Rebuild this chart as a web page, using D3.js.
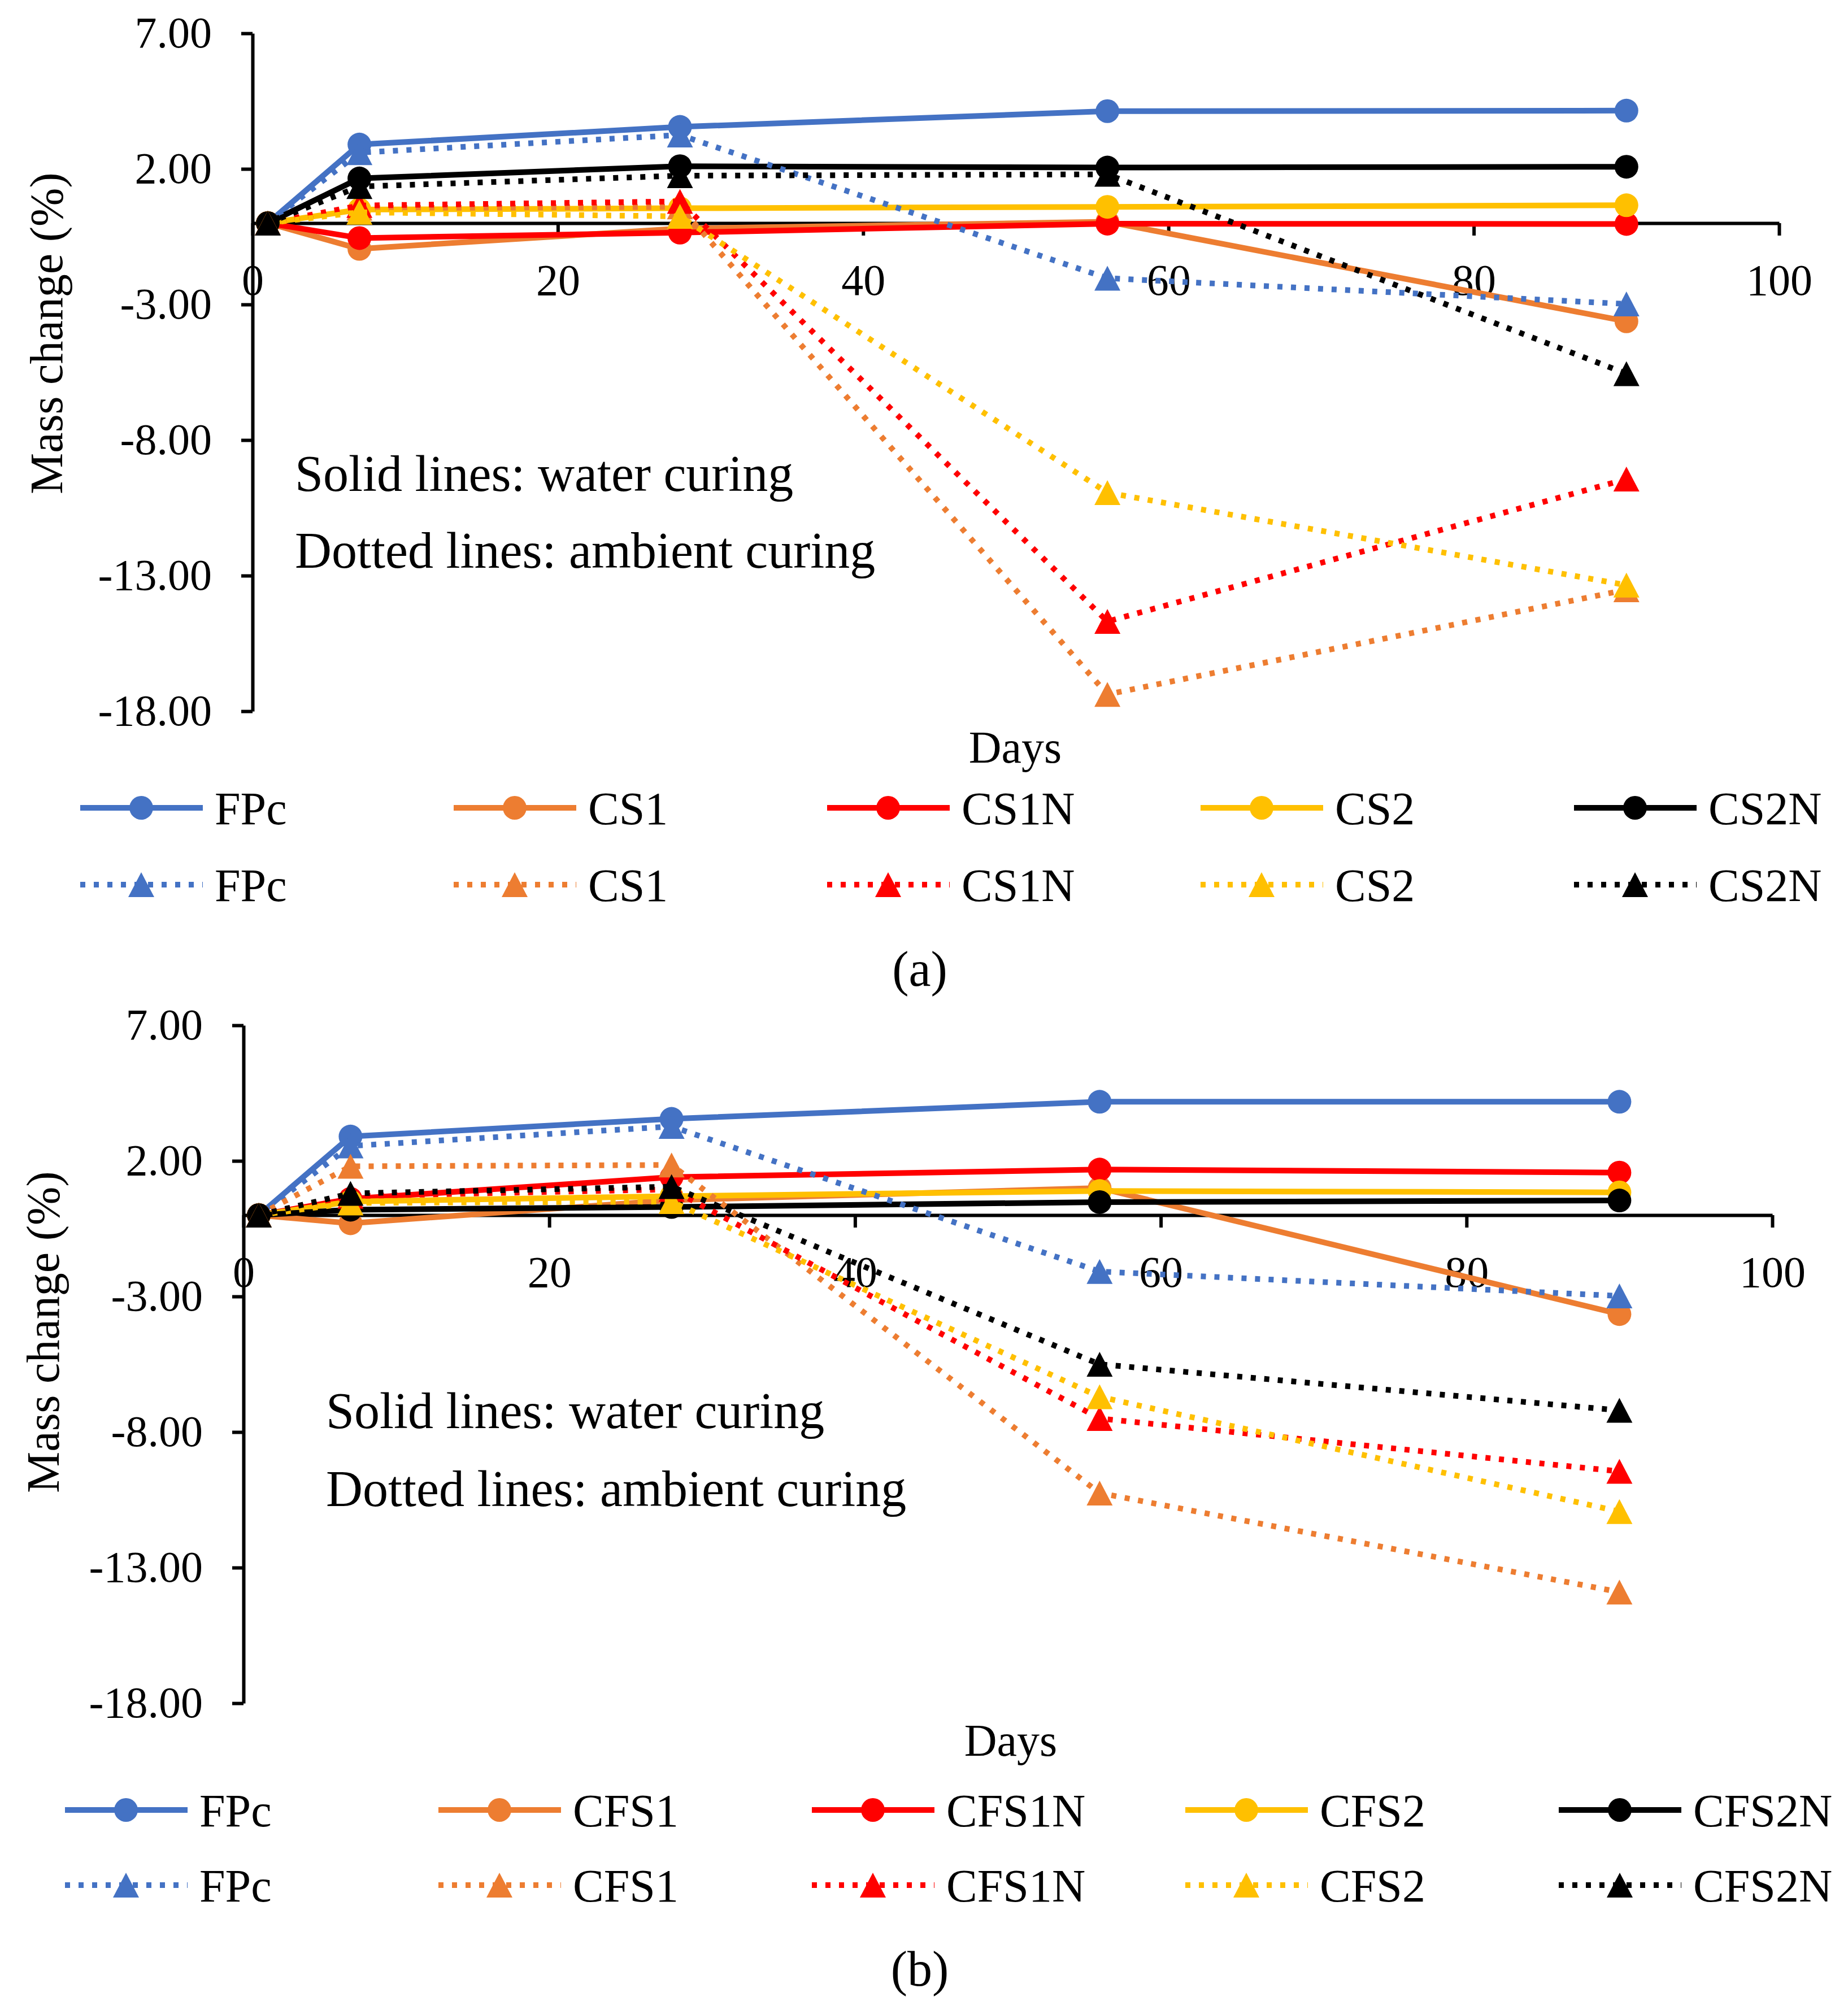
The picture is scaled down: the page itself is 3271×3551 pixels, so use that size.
<!DOCTYPE html>
<html>
<head>
<meta charset="utf-8">
<script src="https://cdn.jsdelivr.net/npm/d3@7"></script>
<style>
  body { margin: 0; background: #fff; }
  svg { display: block; font-family: "Liberation Serif", "Times New Roman", serif; }
</style>
</head>
<body>
<svg id="chart" width="3271" height="3551"></svg>
<script>
const width = 3271, height = 3551;

// shared values
const days = [1, 7, 28, 56, 90];
const yTicks = [7, 2, -3, -8, -13, -18];
const xTicks = [0, 20, 40, 60, 80, 100];
const colors = ["#4472C4", "#ED7D31", "#FF0000", "#FFC000", "#000000"];

// panel (a)
const namesA = ["FPc", "CS1", "CS1N", "CS2", "CS2N"];
const solidA = [
    [0, 2.9, 3.55, 4.13, 4.15],
    [0, -0.95, -0.2, 0.05, -3.62],
    [0, -0.55, -0.35, -0.02, -0.03],
    [0, 0.5, 0.55, 0.6, 0.66],
    [0, 1.65, 2.1, 2.05, 2.08]
];
const dottedA = [
    [0, 2.6, 3.25, -2.03, -2.98],
    [0, 0.55, 0.6, -17.38, -13.52],
    [0, 0.65, 0.8, -14.69, -9.44],
    [0, 0.4, 0.25, -9.94, -13.35],
    [0, 1.35, 1.75, 1.8, -5.55]
];

// panel (b)
const namesB = ["FPc", "CFS1", "CFS1N", "CFS2", "CFS2N"];
const solidB = [
    [0, 2.9, 3.55, 4.18, 4.18],
    [0, -0.3, 0.55, 1.0, -3.65],
    [0, 0.6, 1.4, 1.68, 1.57],
    [0, 0.5, 0.7, 0.89, 0.84],
    [0, 0.2, 0.3, 0.48, 0.54]
];
const dottedB = [
    [0, 2.55, 3.27, -2.08, -2.98],
    [0, 1.8, 1.85, -10.25, -13.9],
    [0, 0.7, 0.95, -7.5, -9.45],
    [0, 0.45, 0.5, -6.7, -10.93],
    [0, 0.8, 1.05, -5.5, -7.2]
];

const svg = d3.select("#chart");
svg.append("rect").attr("width", width).attr("height", height).attr("fill", "#fff");

const DOT = "9 15";

function triangle(cx, cy, w, h) {
    return `M${cx},${cy - h / 2}L${cx + w / 2},${cy + h / 2}L${cx - w / 2},${cy + h / 2}Z`;
}

function drawPanel(p) {
    const g = svg.append("g");
    const x = d3.scaleLinear().domain([0, 100]).range([p.left, p.right]);
    const y = d3.scaleLinear().domain([-18, 7]).range([p.bottom, p.top]);

    // y axis
    g.append("g")
        .attr("transform", `translate(${p.left},0)`)
        .call(d3.axisLeft(y).tickValues(yTicks).tickFormat(d => d.toFixed(2))
            .tickSize(20).tickSizeOuter(0).tickPadding(52))
        .call(a => a.selectAll("path, line").attr("stroke", "#000").attr("stroke-width", 6))
        .call(a => a.selectAll("text").attr("fill", "#000").style("font-size", "78px")
            .style("font-family", "Liberation Serif, serif"));

    // x axis at zero
    g.append("g")
        .attr("transform", `translate(0,${y(0)})`)
        .call(d3.axisBottom(x).tickValues(xTicks).tickSize(22).tickSizeOuter(0).tickPadding(50))
        .call(a => a.selectAll("path, line").attr("stroke", "#000").attr("stroke-width", 6))
        .call(a => a.selectAll("text").attr("fill", "#000").style("font-size", "78px")
            .style("font-family", "Liberation Serif, serif"));

    const line = d3.line()
        .x((d, i) => x(days[i]))
        .y(d => y(d));

    // solid series first, dotted on top
    const series = [];
    p.solid.forEach((vals, i) => series.push({ vals, color: colors[i], dotted: false }));
    p.dotted.forEach((vals, i) => series.push({ vals, color: colors[i], dotted: true }));

    series.forEach(s => {
        const sg = g.append("g");
        sg.append("path")
            .attr("fill", "none")
            .attr("stroke", s.color)
            .attr("stroke-width", 10)
            .attr("stroke-linejoin", "round")
            .attr("stroke-dasharray", s.dotted ? DOT : null)
            .attr("d", line(s.vals));
        if (s.dotted) {
            sg.selectAll("path.mk").data(s.vals).join("path")
                .attr("class", "mk")
                .attr("fill", s.color)
                .attr("d", (d, i) => triangle(x(days[i]), y(d), 46, 44));
        } else {
            sg.selectAll("circle").data(s.vals).join("circle")
                .attr("cx", (d, i) => x(days[i]))
                .attr("cy", d => y(d))
                .attr("r", 21)
                .attr("fill", s.color);
        }
    });

    // axis titles
    g.append("text")
        .attr("transform", `translate(${p.yTitleX},${p.yTitleY}) rotate(-90)`)
        .attr("text-anchor", "middle")
        .style("font-size", "82px")
        .text("Mass change (%)");

    g.append("text")
        .attr("x", p.daysX)
        .attr("y", p.daysY)
        .attr("text-anchor", "middle")
        .style("font-size", "80px")
        .text("Days");

    // notes
    g.append("text").attr("x", p.noteX).attr("y", p.noteY1)
        .style("font-size", "90px").text("Solid lines: water curing");
    g.append("text").attr("x", p.noteX).attr("y", p.noteY2)
        .style("font-size", "90px").text("Dotted lines: ambient curing");

    // legend
    [false, true].forEach((dotted, row) => {
        const ly = p.legendY[row];
        p.names.forEach((n, i) => {
            const lx = p.legendX + i * 661;
            const item = g.append("g");
            item.append("line")
                .attr("x1", lx).attr("x2", lx + 217)
                .attr("y1", ly).attr("y2", ly)
                .attr("stroke", colors[i])
                .attr("stroke-width", 10)
                .attr("stroke-dasharray", dotted ? DOT : null);
            if (dotted) {
                item.append("path").attr("fill", colors[i])
                    .attr("d", triangle(lx + 108, ly, 46, 44));
            } else {
                item.append("circle").attr("cx", lx + 108).attr("cy", ly)
                    .attr("r", 21).attr("fill", colors[i]);
            }
            item.append("text")
                .attr("x", lx + 238)
                .attr("y", ly)
                .attr("dy", "0.35em")
                .style("font-size", "82px")
                .text(n);
        });
    });

    // panel label
    g.append("text")
        .attr("x", p.tagX).attr("y", p.tagY)
        .attr("text-anchor", "middle")
        .style("font-size", "88px")
        .text(p.tag);
}

drawPanel({
    left: 447, right: 3149, top: 59, bottom: 1259,
    solid: solidA, dotted: dottedA, names: namesA,
    yTitleX: 110, yTitleY: 590,
    daysX: 1797, daysY: 1350,
    noteX: 522, noteY1: 869, noteY2: 1005,
    legendX: 142, legendY: [1430, 1566],
    tagX: 1628, tagY: 1745, tag: "(a)"
});

drawPanel({
    left: 431, right: 3137, top: 1815, bottom: 3015,
    solid: solidB, dotted: dottedB, names: namesB,
    yTitleX: 104, yTitleY: 2358,
    daysX: 1789, daysY: 3108,
    noteX: 577, noteY1: 2528, noteY2: 2666,
    legendX: 115, legendY: [3204, 3337],
    tagX: 1628, tagY: 3515, tag: "(b)"
});
</script>
</body>
</html>
